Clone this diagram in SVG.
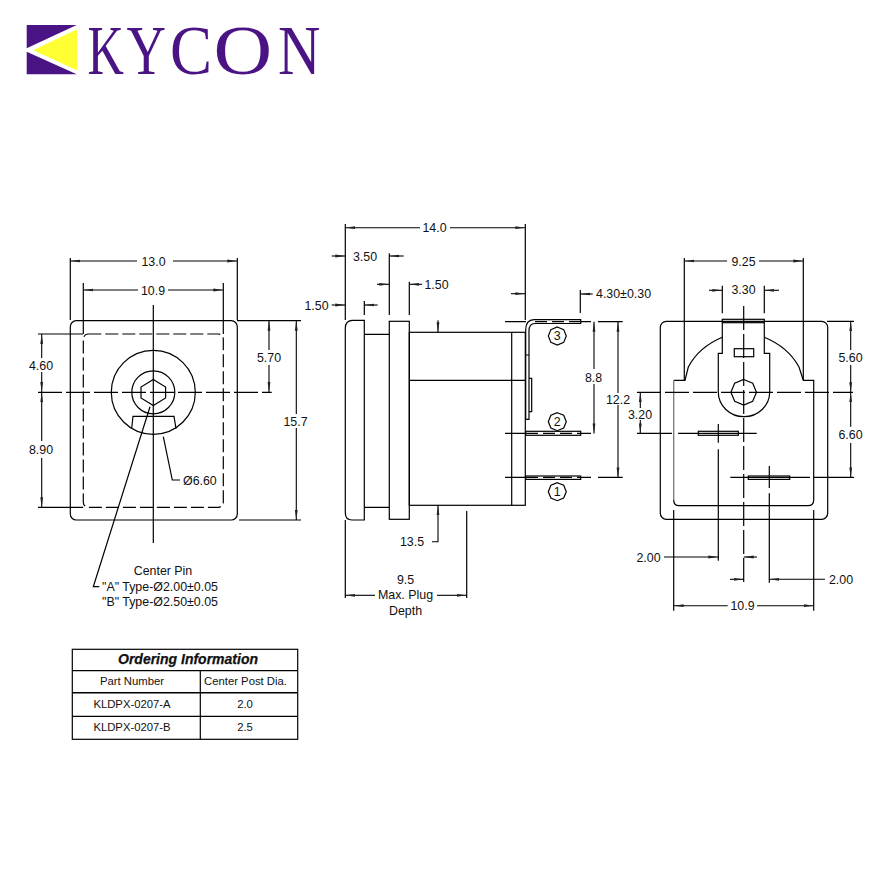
<svg xmlns="http://www.w3.org/2000/svg" width="890" height="890" viewBox="0 0 890 890">
<style>
text{font-family:"Liberation Sans",Arial,sans-serif;font-size:12.4px;fill:#111;text-anchor:middle}
.st{text-anchor:start}
.t{font-size:11.3px}
.l{fill:none;stroke:#000;stroke-width:1.2}
.d{stroke-dasharray:24 4}
.s{stroke-dasharray:12 5}
.a{fill:none;stroke:#000;stroke-width:1.1;marker-end:url(#ar)}
.logo{font-family:"Liberation Serif",serif;font-size:70px;fill:#4b1485;text-anchor:start}
</style>
<defs>
<marker id="ar" markerUnits="userSpaceOnUse" viewBox="0 0 10 4" refX="10" refY="2" markerWidth="10" markerHeight="4" orient="auto-start-reverse"><path d="M0 .6L10 2L0 3.4Z" fill="#222"/></marker>
</defs>
<rect width="890" height="890" fill="#fff"/>

<g id="logo">
<path d="M26.7 25H76.7L26.7 48.3Z M26.7 51.7L76.7 74.3H26.7Z" fill="#4b1485"/>
<path d="M33.3 50.3L77 29.3V70.3Z" fill="#ffff33"/>
<text class="logo" transform="translate(87.5 73.5) scale(.72 1)">K</text>
<text class="logo" transform="translate(126.5 73.5) scale(.78 1)">Y</text>
<text class="logo" transform="translate(170 73.5) scale(.9 1)">C</text>
<text class="logo" transform="translate(213.5 73.5) scale(1.16 1)">O</text>
<text class="logo" transform="translate(278 73.5) scale(.84 1)">N</text>
</g>

<g id="front-view">
<rect class="l" x="70.3" y="320.7" width="167" height="199.3" rx="6"/>
<rect class="l d" x="83.3" y="334" width="140" height="173.3" rx="5" style="stroke-dasharray:13 4"/>
<circle class="l" cx="153.3" cy="392.3" r="42"/>
<circle class="l" cx="153.3" cy="392.3" r="21.5"/>
<polygon class="l" points="153.3,379.5 165.6,387 165.6,398 153.3,405.5 141,398 141,387"/>
<path class="l" d="M131.7 428L133 416.3H174L176 428.7"/>
<path class="l d" d="M38 392.3H271.7"/>
<path class="l" d="M153.3 305V543"/>
</g>

<g id="side-view">
<path class="l" d="M364.3 320.3H352Q345.3 321 345.3 328V513Q345.3 520 352 520H364.3Z"/>
<path class="l" d="M364.3 334.3H389.3M364.3 507.3H389.3"/>
<rect class="l" x="389.3" y="321.3" width="20" height="198"/>
<rect class="l" x="409.3" y="332.3" width="116" height="173"/>
<path class="l" d="M511.7 332.3V505.3M409.3 380.3H525.3"/>
<path class="l" d="M580.7 319.7H534Q525.7 320 525.7 330V419.3H529V331Q529 323.5 535 323.5H580.7Z"/>
<path class="l" d="M525.7 355H529M529 378.3H531.7V411.7H529"/>
<rect class="l" x="525.7" y="431.3" width="55" height="4"/>
<rect class="l" x="525.7" y="476" width="55" height="3.4"/>
<path class="l" d="M505 321.7H526M580.7 321.7H591M505 433.4H526M580.7 433.4H591M505 477.4H526M580.7 477.4H591"/>
<path class="l s" d="M535 321.7H580M526 433.4H580M526 477.4H580"/>
</g>

<g id="pin-3"><polygon class="l" points="557.3,327 563.7,329.6 566.3,336 563.7,342.4 557.3,345 550.9,342.4 548.3,336 550.9,329.6"/><text x="557.3" y="340.4">3</text></g>
<g id="pin-2"><polygon class="l" points="557.3,412.7 563.7,415.3 566.3,421.7 563.7,428.1 557.3,430.7 550.9,428.1 548.3,421.7 550.9,415.3"/><text x="557.3" y="426.1">2</text></g>
<g id="pin-1"><polygon class="l" points="557.3,482.7 563.7,485.3 566.3,491.7 563.7,498.1 557.3,500.7 550.9,498.1 548.3,491.7 550.9,485.3"/><text x="557.3" y="496.1">1</text></g>

<g id="rear-view">
<rect class="l" x="660.3" y="321.3" width="167.4" height="198" rx="6"/>
<path class="l" d="M673.7 380.3H685L688.3 367Q699 347 722.3 337.3M764.3 337.3Q788 347 799 367L803.3 380.3H813.7V500Q813.7 505.7 808 505.7H679Q673.7 505.7 673.7 500"/>
<path d="M673.7 380.3V500" fill="none" stroke="#777" stroke-width="1.3"/>
<rect class="l" x="722.3" y="319.3" width="42" height="3.4"/>
<path class="l" d="M722.3 322.7V353.3H718.3V392A25.7 24.7 0 0 0 769.7 392V353.3H764.3V322.7"/>
<rect class="l" x="734.3" y="348.7" width="19.4" height="8"/>
<polygon class="l" points="743.7,379.5 752.7,383.3 756.5,392.3 752.7,401.3 743.7,405.1 734.7,401.3 730.9,392.3 734.7,383.3"/>
<rect class="l" x="698.3" y="431.3" width="40" height="4"/>
<rect class="l" x="748.3" y="476" width="41.4" height="3.4"/>
<path class="l d" d="M743.7 306V582.7"/>
<path class="l d" d="M637 392.3H853"/>
<path class="l" d="M637 433.4H672M678 433.4H756.7M730.3 477.4H810M814 477.4H854"/>
<path class="l" d="M718.3 424V442.7M718.3 449.3V560.7M769.3 466V488M769.3 493.3V582.7"/>
</g>

<g id="connectors">
<!-- front view dimensions -->
<path class="l" d="M70.3 258V320M237.3 258V320M83.3 283V334M223.3 283V334M38 334H83M38 507.3H83M237 320.7H301M239 520H301"/>
<path class="a" d="M137 261H70.3"/><path class="a" d="M173 261H237.3"/>
<path class="a" d="M138 290H83.3"/><path class="a" d="M168 290H223.3"/>
<path class="a" d="M41.7 358V334"/><path class="a" d="M41.7 372V392"/>
<path class="a" d="M41.7 441V392.3"/><path class="a" d="M41.7 458V507.3"/>
<path class="a" d="M269 350V320.7"/><path class="a" d="M269 365V392"/>
<path class="a" d="M296.3 414V320.7"/><path class="a" d="M296.3 428V520"/>
<path class="l" d="M163.3 436.7L172.3 480H180"/>
<path class="l" d="M150 406.7L93.3 586.7H99.3"/>
<!-- side view dimensions -->
<path class="l" d="M345.3 224V320M525.3 224V320M389.3 253.3V315M364.3 301V315M409.3 281.7V315M466.7 511V598M345.3 520V598"/>
<path class="a" d="M420 227.7H345.3"/><path class="a" d="M450 227.7H525.3"/>
<path class="a" d="M331.7 256H345.3"/><path class="a" d="M403.7 256H389.3"/>
<path class="a" d="M331.7 305H345.3"/><path class="a" d="M377.7 305H364.3"/>
<path class="a" d="M377 284.3H389.3"/><path class="a" d="M422 284.3H409.3"/>
<path class="a" d="M511 293.7H525.3"/>
<path class="a" d="M438 320.3V332.3"/>
<path class="a" d="M432 541.7H438V505.3"/>
<path class="a" d="M375 595.3H345.3"/><path class="a" d="M437 595.3H466.7"/>
<path class="l" d="M580.3 290V313"/>
<path class="a" d="M592.7 294H580.3"/>
<path class="l" d="M598 321.7H622.7M598 477.4H622.7"/>
<path class="a" d="M594 369V321.7"/><path class="a" d="M594 384V433.4"/>
<path class="a" d="M618 393V321.7"/><path class="a" d="M618 405V477.4"/>
<path class="a" d="M640.3 408V392.3"/><path class="a" d="M640.3 420V433.4"/>
<!-- rear view dimensions -->
<path class="l" d="M684.3 258V380M803.3 258V380M722.3 285.7V313.3M764.3 285.7V313.3M827 321.3H854M673.7 510V610.7M813.7 510V610.7"/>
<path class="a" d="M727 261H684.3"/><path class="a" d="M759 261H803.3"/>
<path class="a" d="M709 290.3H722.3"/><path class="a" d="M779 290.3H764.3"/>
<path class="a" d="M850.7 350V321.3"/><path class="a" d="M850.7 365V392.3"/>
<path class="a" d="M850.7 426.7V392.3"/><path class="a" d="M850.7 443V477.4"/>
<path class="a" d="M664 557H718.3"/><path class="a" d="M757 557H743.7"/>
<path class="a" d="M730 579.3H743.7"/><path class="a" d="M825 579.3H769.3"/>
<path class="a" d="M727.7 605.7H673.7"/><path class="a" d="M757 605.7H813.7"/>
</g>

<g id="labels">
<text x="153.5" y="265.5">13.0</text>
<text x="153" y="294.5">10.9</text>
<text x="41" y="369.5">4.60</text>
<text x="41" y="453.5">8.90</text>
<text x="269" y="361.5">5.70</text>
<text x="295.5" y="425.5">15.7</text>
<text class="st" x="183" y="484.5">Ø6.60</text>
<text x="163" y="574.5">Center Pin</text>
<text class="st" x="102" y="590.5">"A" Type-Ø2.00±0.05</text>
<text class="st" x="102" y="605.5">"B" Type-Ø2.50±0.05</text>
<text x="434.5" y="231.5">14.0</text>
<text x="365" y="260.5">3.50</text>
<text x="316.5" y="309.5">1.50</text>
<text x="436.5" y="288.5">1.50</text>
<text x="412" y="545.5">13.5</text>
<text x="405.5" y="583.5">9.5</text>
<text x="405.5" y="599">Max. Plug</text>
<text x="405.5" y="614.5">Depth</text>
<text class="st" x="596" y="297.5">4.30±0.30</text>
<text x="593.5" y="381.5">8.8</text>
<text x="618" y="403.5">12.2</text>
<text x="640" y="418.5">3.20</text>
<text x="743.5" y="265.5">9.25</text>
<text x="743.5" y="294">3.30</text>
<text x="850.5" y="361.5">5.60</text>
<text x="850.5" y="438.5">6.60</text>
<text x="648.5" y="561.5">2.00</text>
<text x="841" y="583.5">2.00</text>
<text x="742.5" y="610">10.9</text>
</g>

<g id="ordering-table">
<rect class="l" x="72.3" y="649.3" width="225.4" height="90"/>
<path class="l" d="M72.3 670.7H297.7M72.3 716.3H297.7M200.3 670.7V739.3"/>
<path d="M72.3 692.7H297.7" fill="none" stroke="#000" stroke-width="1.6"/>
<text x="188" y="664" style="font-size:14px;font-weight:bold;font-style:italic;stroke:#111;stroke-width:.25">Ordering Information</text>
<text class="t" x="132" y="684.7">Part Number</text>
<text class="t" x="245.5" y="684.7">Center Post Dia.</text>
<text class="t" x="132" y="708.4">KLDPX-0207-A</text>
<text class="t" x="245" y="708.4">2.0</text>
<text class="t" x="132" y="731">KLDPX-0207-B</text>
<text class="t" x="245" y="731">2.5</text>
</g>
</svg>
